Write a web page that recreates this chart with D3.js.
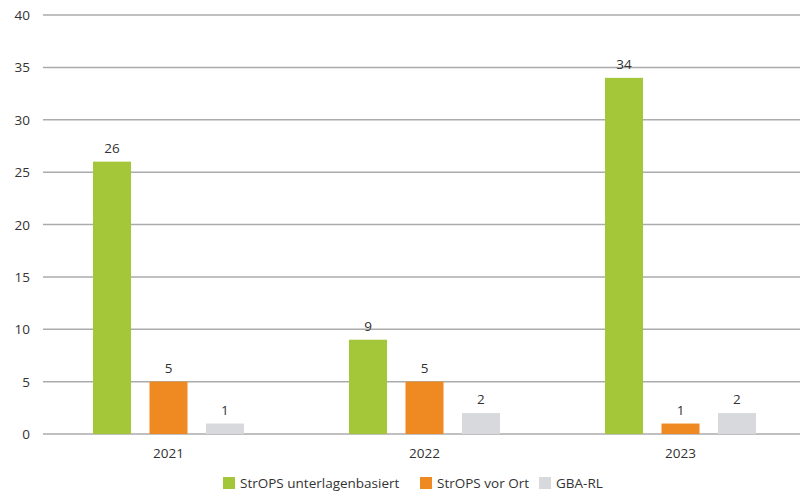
<!DOCTYPE html>
<html lang="de">
<head>
  <meta charset="UTF-8" />
  <title>StrOPS</title>
  <script src="https://d3js.org/d3.v7.min.js"></script>
  <style>
    body { margin: 0; background: #fff; }
    svg { display: block; font-family: "Open Sans", sans-serif; }
  </style>
</head>
<body>
  <svg width="800" height="495"></svg>
  <script>
    const years = ["2021", "2022", "2023"];
    const seriesNames = ["StrOPS unterlagenbasiert", "StrOPS vor Ort", "GBA-RL"];
    const seriesColors = ["#a4c639", "#ef8a23", "#d8d9dc"];
    const unterlagen = [26, 9, 34];
    const vorOrt = [5, 5, 1];
    const gbaRl = [1, 2, 2];
    const yTicks = [0, 5, 10, 15, 20, 25, 30, 35, 40];

    const seriesValues = [unterlagen, vorOrt, gbaRl];

    const svg = d3.select("svg");
    const gridLeft = 43, gridRight = 800;
    const fs = 13.5;

    const y = d3.scaleLinear().domain([0, 40]).range([434, 15]);
    const x = d3.scaleBand().domain(years).range([41, 809]);
    // inner scale for the three bars within a year
    const xs = d3.scaleBand().domain(seriesNames).range([52, 203]).paddingInner(0.327);

    // gridlines + y labels
    svg.append("g").selectAll("line")
      .data(yTicks)
      .join("line")
      .attr("x1", gridLeft).attr("x2", gridRight)
      .attr("y1", d => y(d)).attr("y2", d => y(d))
      .attr("stroke", "#ababab")
      .attr("stroke-width", 1.5);

    svg.append("g").selectAll("text")
      .data(yTicks)
      .join("text")
      .attr("x", 30)
      .attr("y", d => y(d) + 5)
      .attr("text-anchor", "end")
      .attr("font-size", fs)
      .attr("fill", "#333")
      .text(d => d);

    // bars
    const rows = [];
    years.forEach((yr, i) => {
      seriesNames.forEach((s, j) => {
        rows.push({ year: yr, series: s, value: seriesValues[j][i], color: seriesColors[j] });
      });
    });

    svg.append("g").selectAll("rect")
      .data(rows)
      .join("rect")
      .attr("x", d => x(d.year) + xs(d.series))
      .attr("y", d => y(d.value))
      .attr("width", xs.bandwidth())
      .attr("height", d => y(0) - y(d.value))
      .attr("fill", d => d.color);

    svg.append("g").selectAll("text")
      .data(rows)
      .join("text")
      .attr("x", d => x(d.year) + xs(d.series) + xs.bandwidth() / 2)
      .attr("y", d => y(d.value) - 9)
      .attr("text-anchor", "middle")
      .attr("font-size", fs)
      .attr("fill", "#333")
      .text(d => d.value);

    // year labels
    svg.append("g").selectAll("text")
      .data(years)
      .join("text")
      .attr("x", d => x(d) + xs("StrOPS vor Ort") + xs.bandwidth() / 2)
      .attr("y", 458)
      .attr("text-anchor", "middle")
      .attr("font-size", fs)
      .attr("fill", "#333")
      .text(d => d);

    // legend
    const legendX = [223, 420, 539];
    const legend = svg.append("g").selectAll("g")
      .data(seriesNames)
      .join("g")
      .attr("transform", (d, i) => `translate(${legendX[i]},477)`);
    legend.append("rect")
      .attr("width", 12).attr("height", 12)
      .attr("fill", (d, i) => seriesColors[i]);
    legend.append("text")
      .attr("x", 17).attr("y", 11)
      .attr("font-size", fs)
      .attr("fill", "#333")
      .text(d => d);
  </script>
</body>
</html>
